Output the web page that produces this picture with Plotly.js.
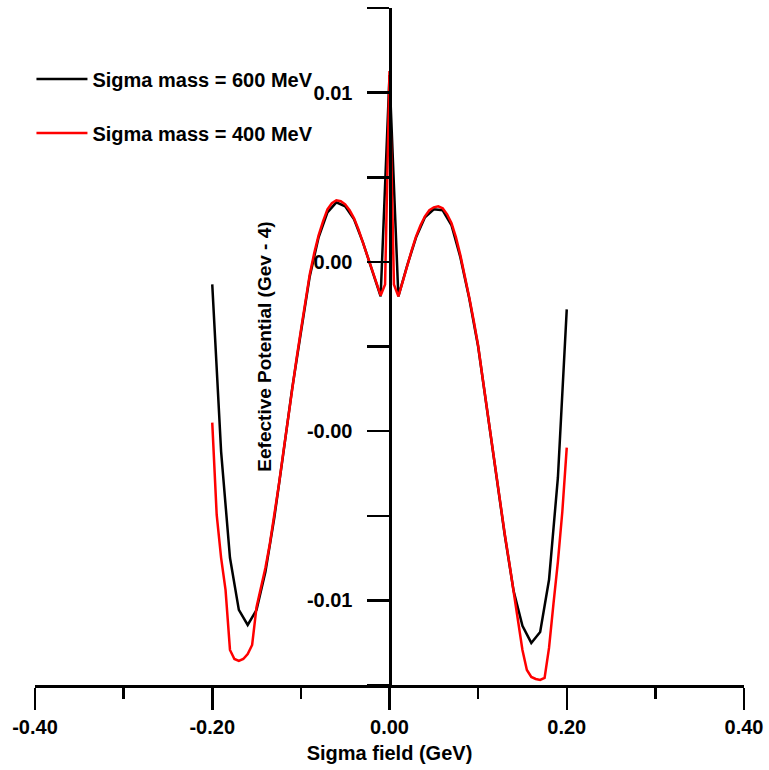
<!DOCTYPE html>
<html>
<head>
<meta charset="utf-8">
<script src="https://cdn.plot.ly/plotly-3.0.1.min.js"></script>
<style>html,body{margin:0;padding:0;background:#fff;}#chart{width:769px;height:770px;}</style>
</head>
<body>
<div id="chart"></div>
<script>
// Sigma field (GeV) for the 600 MeV curve
var xBlack = [-0.20,-0.19,-0.18,-0.17,-0.16,-0.15,-0.14,-0.13,-0.12,-0.11,-0.10,-0.09,-0.08,-0.07,-0.06,-0.05,-0.04,-0.03,-0.02,-0.01,
  0.00,0.01,0.02,0.03,0.04,0.05,0.06,0.07,0.08,0.09,0.10,0.11,0.12,0.13,0.14,0.15,0.16,0.17,0.18,0.19,0.20];
// Effective potential, sigma mass = 600 MeV
var yBlack = [0.001834,-0.003107,-0.006243,-0.007781,-0.008225,-0.007781,-0.006657,-0.005059,-0.003195,-0.001272,0.000414,0.002071,0.003225,0.003964,0.004260,0.004142,0.003757,0.003077,0.002278,0.001479,
  0.008018,0.001479,0.002396,0.003225,0.003817,0.004053,0.004024,0.003580,0.002633,0.001420,0.000000,-0.001893,-0.003787,-0.005562,-0.007219,-0.008254,-0.008757,-0.008432,-0.006893,-0.003876,0.001095];

// Sigma field (GeV) for the 400 MeV curve
var xRed = [-0.200,-0.195,-0.190,-0.185,-0.180,-0.175,-0.170,-0.165,-0.160,-0.155,-0.150,-0.145,-0.140,-0.135,-0.130,-0.125,-0.120,-0.115,-0.110,-0.105,
  -0.100,-0.095,-0.090,-0.085,-0.080,-0.075,-0.070,-0.065,-0.060,-0.055,-0.050,-0.045,-0.040,-0.035,-0.030,-0.025,-0.020,-0.015,-0.010,-0.005,
  0.000,0.005,0.010,0.015,0.020,0.025,0.030,0.035,0.040,0.045,0.050,0.055,0.060,0.065,0.070,0.075,0.080,0.085,0.090,0.095,
  0.100,0.105,0.110,0.115,0.120,0.125,0.130,0.135,0.140,0.145,0.150,0.155,0.160,0.165,0.170,0.175,0.180,0.185,0.190,0.195,0.200];
// Effective potential, sigma mass = 400 MeV
var yRed = [-0.002249,-0.004970,-0.006243,-0.007189,-0.008964,-0.009231,-0.009290,-0.009231,-0.009083,-0.008817,-0.007692,-0.007130,-0.006538,-0.005828,-0.005030,-0.004112,-0.003166,-0.002189,-0.001213,-0.000385,
  0.000473,0.001331,0.002130,0.002751,0.003284,0.003698,0.004053,0.004231,0.004320,0.004290,0.004201,0.004024,0.003787,0.003462,0.003077,0.002692,0.002278,0.001864,0.001509,0.001834,
  0.008136,0.001834,0.001479,0.001923,0.002396,0.002840,0.003254,0.003580,0.003846,0.004024,0.004112,0.004142,0.004083,0.003905,0.003639,0.003225,0.002692,0.002101,0.001450,0.000769,
  0.000030,-0.000917,-0.001864,-0.002811,-0.003757,-0.004675,-0.005533,-0.006361,-0.007249,-0.008077,-0.008964,-0.009556,-0.009763,-0.009822,-0.009852,-0.009793,-0.008905,-0.007604,-0.006361,-0.004882,-0.002988];

var seriesNames = ['Sigma mass = 600 MeV', 'Sigma mass = 400 MeV'];

var xTickVals = [-0.4, -0.2, 0, 0.2, 0.4];
var xTickText = ['-0.40', '-0.20', '0.00', '0.20', '0.40'];
var xMinorVals = [-0.3, -0.1, 0.1, 0.3];
var yTickVals = [-0.01, -0.0075, -0.005, -0.0025, 0, 0.0025, 0.005, 0.0075, 0.01];
var yTickText = ['', '-0.01', '', '-0.00', '', '0.00', '', '0.01', ''];

var FONT = 'Liberation Sans, Arial, sans-serif';

var traces = [
  {x: xBlack, y: yBlack, type: 'scatter', mode: 'lines', name: seriesNames[0],
   line: {color: '#000000', width: 2.5}, legend: 'legend'},
  {x: xRed, y: yRed, type: 'scatter', mode: 'lines', name: seriesNames[1],
   line: {color: '#ff0000', width: 2.5}, legend: 'legend2'}
];

var legendCommon = {
  font: {family: FONT, size: 20, color: '#000', weight: 'bold'},
  bgcolor: 'rgba(0,0,0,0)', borderwidth: 0, itemwidth: 51,
  xanchor: 'left', yanchor: 'middle'
};

var layout = {
  width: 769, height: 770,
  margin: {l: 35, r: 25, t: 8, b: 85},
  paper_bgcolor: '#fff', plot_bgcolor: '#fff',
  font: {family: FONT, size: 20, color: '#000', weight: 'bold'},
  showlegend: true,
  legend: Object.assign({}, legendCommon, {x: -0.005, y: (685 - 79) / 677}),
  legend2: Object.assign({}, legendCommon, {x: -0.005, y: (685 - 133) / 677}),
  xaxis: {
    range: [-0.4, 0.4], showgrid: false, zeroline: false,
    showline: true, linecolor: '#000', linewidth: 3,
    tickmode: 'array', tickvals: xTickVals, ticktext: xTickText,
    ticks: 'outside', ticklen: 22, tickwidth: 2.5, tickcolor: '#000',
    tickfont: {family: FONT, size: 20, color: '#000', weight: 'bold'},
    minor: {tickmode: 'array', tickvals: xMinorVals, ticks: 'outside', ticklen: 11, tickwidth: 2.5, tickcolor: '#000', showgrid: false},
    title: {text: 'Sigma field (GeV)', font: {family: FONT, size: 20, color: '#000', weight: 'bold'}, standoff: 9}
  },
  yaxis: {
    range: [-0.01, 0.01], showgrid: false, zeroline: false,
    anchor: 'free', position: 0.5, side: 'left',
    showline: true, linecolor: '#000', linewidth: 3,
    tickmode: 'array', tickvals: yTickVals, ticktext: yTickText,
    ticks: 'outside', ticklen: 22, tickwidth: 2.5, tickcolor: '#000',
    ticklabelstandoff: 10,
    tickfont: {family: FONT, size: 20, color: '#000', weight: 'bold'},
    title: {text: 'Eefective Potential (Gev - 4)', font: {family: FONT, size: 19, color: '#000', weight: 'bold'}, standoff: 29}
  }
};

Plotly.newPlot('chart', traces, layout, {displayModeBar: false, staticPlot: true});
</script>
</body>
</html>
